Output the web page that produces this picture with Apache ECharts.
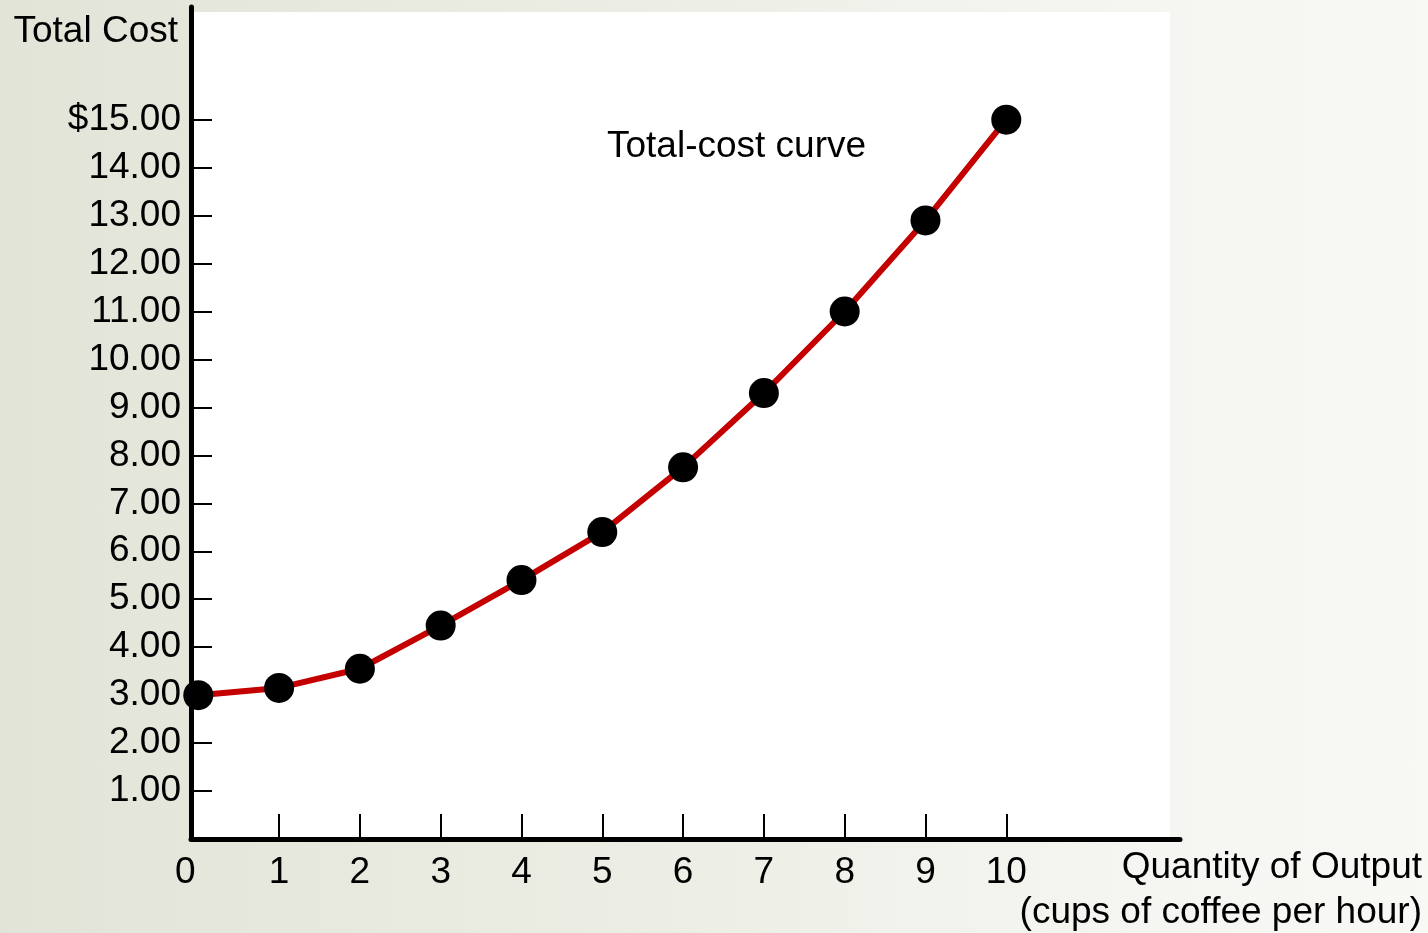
<!DOCTYPE html>
<html>
<head>
<meta charset="utf-8">
<title>Total-cost curve</title>
<script src="https://cdn.jsdelivr.net/npm/echarts@6/dist/echarts.min.js"></script>
<style>
  html, body { margin: 0; padding: 0; }
  body {
    width: 1428px; height: 933px; overflow: hidden;
    background: linear-gradient(to right, #e2e4d8 0%, #eceee5 45%, #f5f6f1 80%, #f8f8f5 100%);
  }
  #chart { width: 1428px; height: 933px; }
</style>
</head>
<body>
<div id="chart"></div>
<script>
// Output: cups of coffee per hour
const quantity = [0, 1, 2, 3, 4, 5, 6, 7, 8, 9, 10];
// Total cost in dollars at each output level
const totalCost = [3.00, 3.15, 3.55, 4.45, 5.40, 6.40, 7.75, 9.30, 11.00, 12.90, 15.00];
// Axis tick values
const xTicks = [1, 2, 3, 4, 5, 6, 7, 8, 9, 10];
const xLabels = [0, 1, 2, 3, 4, 5, 6, 7, 8, 9, 10];
const yTicks = [1, 2, 3, 4, 5, 6, 7, 8, 9, 10, 11, 12, 13, 14, 15];

const FONT = '"Liberation Sans", Arial, sans-serif';
const FS = 37;
const chart = echarts.init(document.getElementById('chart'), null, { renderer: 'canvas' });

chart.setOption({
  animation: false,
  backgroundColor: 'transparent',
  textStyle: { fontFamily: FONT },
  grid: {
    left: 191, right: 248, top: 7, bottom: 94,
    containLabel: false, outerBoundsMode: 'none'
  },
  xAxis: {
    type: 'value',
    min: -0.09,
    max: 12.15,
    splitLine: { show: false },
    axisLine: { show: true, onZero: false, lineStyle: { color: '#000', width: 5 } },
    axisTick: {
      show: true, inside: true, length: 25, customValues: xTicks,
      lineStyle: { color: '#000', width: 2 }
    },
    axisLabel: {
      show: true, customValues: xLabels, margin: 15,
      color: '#000', fontSize: FS, fontFamily: FONT,
      formatter: v => (v === 0 ? '{z|0}' : String(v)),
      rich: { z: { fontSize: FS, fontFamily: FONT, color: '#000', padding: [0, 26, 0, 0] } }
    }
  },
  yAxis: {
    type: 'value',
    min: 0,
    max: 17.35,
    splitLine: { show: false },
    axisLine: { show: true, onZero: false, lineStyle: { color: '#000', width: 5 } },
    axisTick: {
      show: true, inside: true, length: 21, customValues: yTicks,
      lineStyle: { color: '#000', width: 2 }
    },
    axisLabel: {
      show: true, customValues: yTicks, margin: 10,
      color: '#000', fontSize: FS, fontFamily: FONT,
      formatter: v => (v === 15 ? '$' + v.toFixed(2) : v.toFixed(2))
    }
  },
  graphic: [
    // white drawing panel behind the plot
    { type: 'rect', z: -10, silent: true,
      shape: { x: 191, y: 12, width: 979, height: 827 },
      style: { fill: '#ffffff' } },
    { type: 'text', z: 10, silent: true, x: 178, y: 32,
      style: { text: 'Total Cost', fill: '#000', font: FS + 'px ' + FONT,
               textAlign: 'right', textVerticalAlign: 'middle' } },
    { type: 'text', z: 10, silent: true, x: 607, y: 147,
      style: { text: 'Total-cost curve', fill: '#000', font: FS + 'px ' + FONT,
               textAlign: 'left', textVerticalAlign: 'middle' } },
    { type: 'text', z: 10, silent: true, x: 1422, y: 868,
      style: { text: 'Quantity of Output', fill: '#000', font: FS + 'px ' + FONT,
               textAlign: 'right', textVerticalAlign: 'middle' } },
    { type: 'text', z: 10, silent: true, x: 1422, y: 913,
      style: { text: '(cups of coffee per hour)', fill: '#000', font: FS + 'px ' + FONT,
               textAlign: 'right', textVerticalAlign: 'middle' } }
  ],
  series: [{
    type: 'line',
    data: quantity.map((q, i) => [q, totalCost[i]]),
    smooth: false,
    clip: false,
    z: 5,
    lineStyle: { color: '#c40000', width: 6 },
    symbol: 'circle',
    symbolSize: 30,
    showAllSymbol: true,
    itemStyle: { color: '#000', borderWidth: 0 },
    label: { show: false }
  }]
});
</script>
</body>
</html>
